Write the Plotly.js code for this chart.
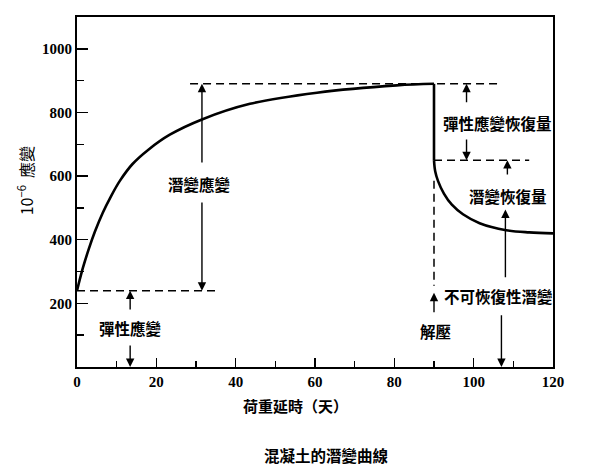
<!DOCTYPE html>
<html><head><meta charset="utf-8">
<script src="https://cdn.plot.ly/plotly-3.0.1.min.js"></script>
<style>body{margin:0;background:#fff}#c{width:600px;height:475px}</style>
</head><body><div id="c"></div>
<script>
// Loading (creep) curve, days vs strain (10^-6)
const loadDays   = [0, 1.5, 3, 4.5, 6.5, 8.5, 10.8, 14, 18, 23.4, 31.5, 43.6, 60.5, 80.6, 90];
const loadStrain = [240, 312, 372, 425, 485, 535, 585, 638, 683, 730, 778, 827, 862, 885, 890];
// Unloading drop at day 90
const dropDays   = [90, 90];
const dropStrain = [890, 650];
// Recovery curve after unloading
const recDays    = [90, 90.3, 91, 92.5, 94.5, 97.3, 101.5, 108.2, 114, 120];
const recStrain  = [650, 615, 585, 545, 510, 480, 452, 430, 423, 420];

// Reference levels (strain)
const elasticLevel   = 240;
const peakLevel      = 890;
const recoveredLevel = 650;

// Dashed guide lines: [x0, x1, y0, y1]
const guideX0 = [0, 28.5, 90, 90];
const guideX1 = [35, 107, 114, 90];
const guideY0 = [elasticLevel, peakLevel, recoveredLevel, 585];
const guideY1 = [elasticLevel, peakLevel, recoveredLevel, 255];

// Labels
const labelText = ['潛變應變', '彈性應變', '彈性應變恢復量', '潛變恢復量', '不可恢復性潛變', '解壓'];
const labelX    = [31, 13.4, 105.9, 108.6, 106.3, 90.4];
const labelY    = [575, 123, 767, 538, 223, 113];

// Arrows: tail (ax, ay) -> tip (x, y)
const arrowX  = [13.4, 13.4, 31.5, 31.5, 98.2, 98.2, 108.5, 108, 107, 90];
const arrowTailY = [176, 72, 638, 522, 827, 720, 600, 277, 167, 167];
const arrowTipY  = [elasticLevel, 0, peakLevel, elasticLevel, peakLevel, recoveredLevel, recoveredLevel, 495, 0, 233];

const yTicks = [200, 400, 600, 800, 1000];
const xTicks = [0, 20, 40, 60, 80, 100, 120];

const cjk = 'Noto Sans CJK TC, Noto Sans CJK SC, sans-serif';
const lineStyle = {color: '#000', width: 2.6};

const traces = [
  {x: loadDays, y: loadStrain, mode: 'lines', line: Object.assign({shape: 'spline', smoothing: 1}, lineStyle), hoverinfo: 'skip'},
  {x: dropDays, y: dropStrain, mode: 'lines', line: lineStyle, hoverinfo: 'skip'},
  {x: recDays, y: recStrain, mode: 'lines', line: Object.assign({shape: 'spline', smoothing: 1}, lineStyle), hoverinfo: 'skip'}
];

const shapes = guideX0.map((x0, i) => ({
  type: 'line', xref: 'x', yref: 'y', x0: x0, x1: guideX1[i], y0: guideY0[i], y1: guideY1[i],
  line: {color: '#000', width: 1.5, dash: '8px,5px'}
}));

const annotations = [];
labelText.forEach((t, i) => annotations.push({
  x: labelX[i], y: labelY[i], xref: 'x', yref: 'y', text: t, showarrow: false,
  font: {family: cjk, size: 15.5, color: '#000', weight: 'bold'}, xanchor: 'center', yanchor: 'middle'
}));
arrowX.forEach((x, i) => annotations.push({
  x: x, y: arrowTipY[i], ax: x, ay: arrowTailY[i], xref: 'x', yref: 'y', axref: 'x', ayref: 'y',
  text: '', showarrow: true, arrowhead: 2, arrowsize: 1.2, arrowwidth: 1.4, arrowcolor: '#000', standoff: 0
}));
annotations.push({x: 0.458, y: -0.109, xref: 'paper', yref: 'paper', text: '荷重延時（天）', showarrow: false,
  font: {family: cjk, size: 15, color: '#000', weight: 'bold'}, xanchor: 'center', yanchor: 'middle'});
annotations.push({x: 0.525, y: -0.251, xref: 'paper', yref: 'paper', text: '混凝土的潛變曲線', showarrow: false,
  font: {family: cjk, size: 15.5, color: '#000', weight: 'bold'}, xanchor: 'center', yanchor: 'middle'});
annotations.push({x: -0.109, y: 0.531, xref: 'paper', yref: 'paper', text: '10<sup>−6</sup>  應變', showarrow: false,
  textangle: -90, font: {family: cjk, size: 16, color: '#000'}, xanchor: 'center', yanchor: 'middle'});

const tickFont = {family: 'Liberation Serif, DejaVu Serif Condensed, DejaVu Serif', size: 15, color: '#000', weight: 'bold'};

const layout = {
  width: 600, height: 475,
  margin: {l: 77, r: 47, t: 17, b: 108},
  paper_bgcolor: '#fff', plot_bgcolor: '#fff',
  showlegend: false,
  xaxis: {range: [0, 120], tickvals: xTicks, ticks: 'inside', ticklen: 9, tickwidth: 1.5, tickcolor: '#000',
    showline: true, linewidth: 2, linecolor: '#000', mirror: true, showgrid: false, zeroline: false,
    tickfont: tickFont, minor: {dtick: 10, tick0: 0, ticks: 'inside', ticklen: 6, tickwidth: 1.5, tickcolor: '#000', showgrid: false}},
  yaxis: {range: [0, 1100], tickvals: yTicks, ticks: 'inside', ticklen: 11, tickwidth: 1.5, tickcolor: '#000',
    showline: true, linewidth: 2, linecolor: '#000', mirror: true, showgrid: false, zeroline: false,
    tickfont: tickFont, minor: {dtick: 100, tick0: 0, ticks: 'inside', ticklen: 7, tickwidth: 1.5, tickcolor: '#000', showgrid: false}},
  shapes: shapes,
  annotations: annotations
};

Plotly.newPlot('c', traces, layout, {staticPlot: true, displayModeBar: false});
</script>
</body></html>
